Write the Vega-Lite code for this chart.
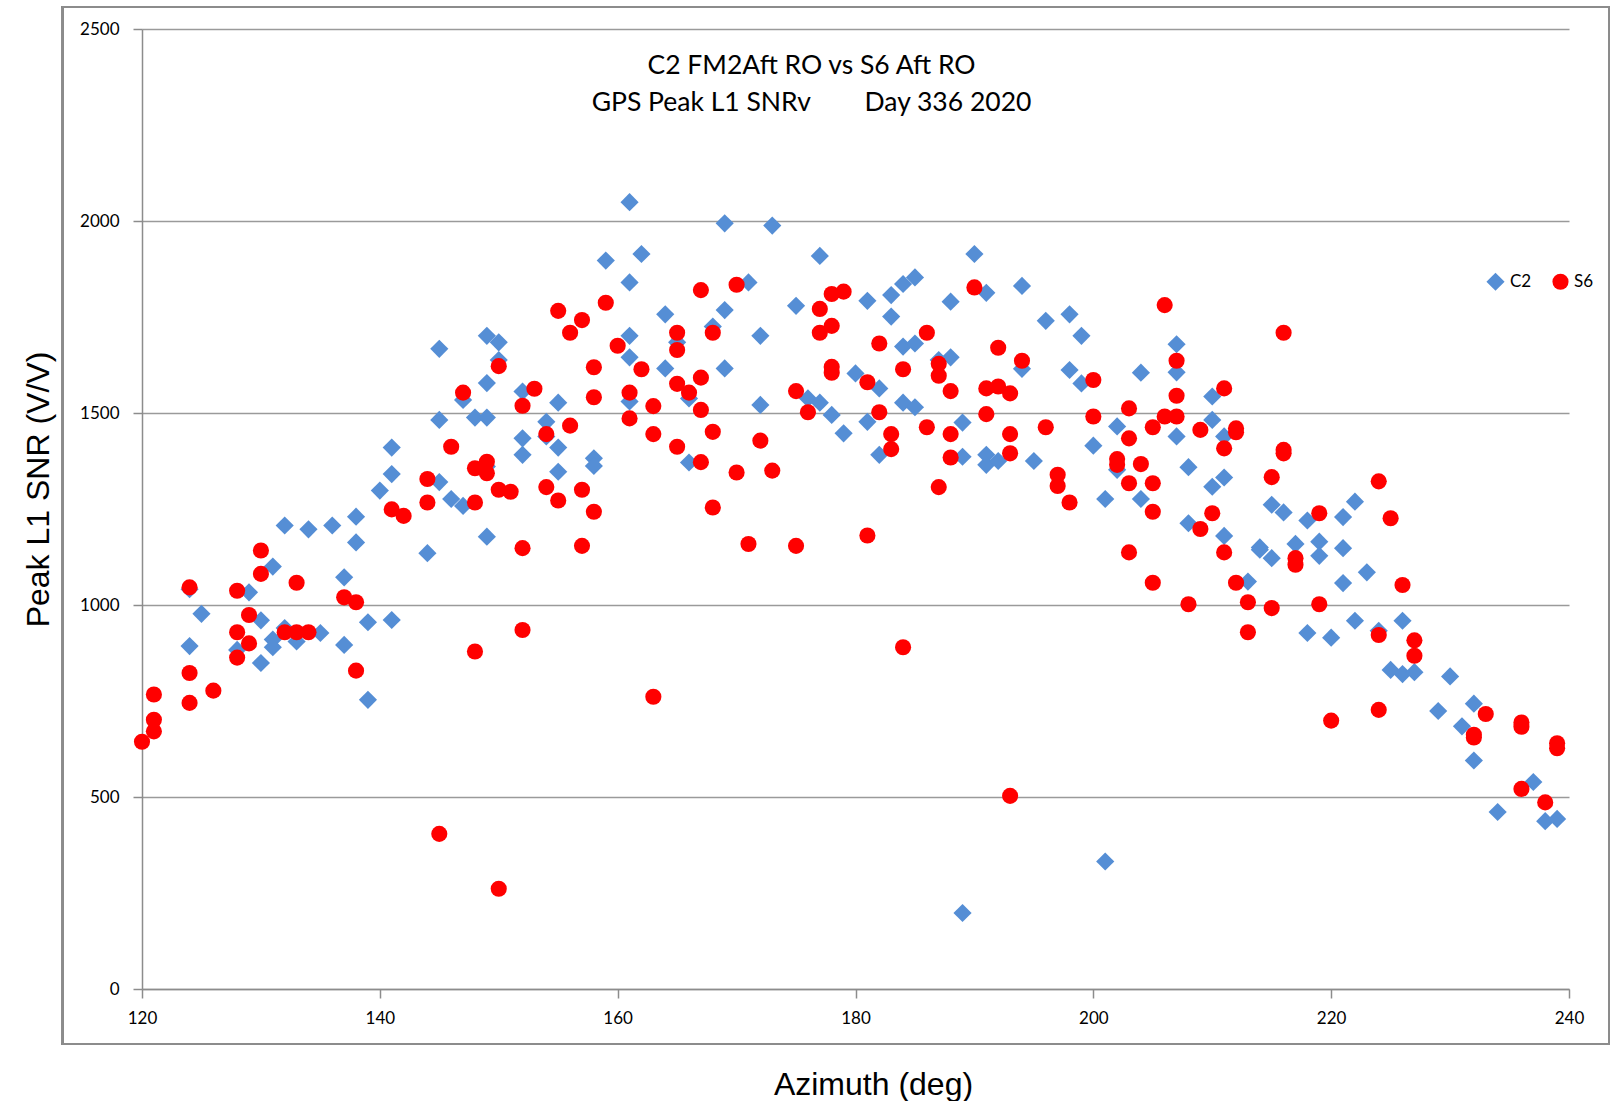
{
  "$schema": "https://vega.github.io/schema/vega-lite/v6.json",
  "width": 1427,
  "height": 960,
  "autosize": {"type": "none"},
  "padding": {"left": 142, "top": 29, "right": 52, "bottom": 112},
  "background": "white",
  "title": {
    "text": ["C2 FM2Aft RO vs S6 Aft RO", "GPS Peak L1 SNRv\u00a0\u00a0\u00a0\u00a0\u00a0\u00a0\u00a0\u00a0Day 336 2020"],
    "font": "Lato", "fontSize": 26.5, "fontWeight": "normal", "color": "#000000",
    "anchor": "middle", "frame": "group", "dx": -44, "dy": 110, "offset": 0,
    "baseline": "top", "lineHeight": 37
  },
  "config": {
    "view": {"stroke": null},
    "legend": {
      "orient": "none", "legendX": 1344, "legendY": 243, "direction": "horizontal",
      "labelFont": "Lato", "labelFontSize": 17, "labelColor": "#000000",
      "symbolSize": 180, "columnPadding": 20, "labelOffset": 5, "padding": 0,
      "symbolStrokeWidth": 0
    }
  },
  "data": {"values": [
    {"az":124,"snr":893,"sat":"C2"},{"az":124,"snr":1041,"sat":"C2"},{"az":125,"snr":977,"sat":"C2"},{"az":128,"snr":883,"sat":"C2"},
    {"az":129,"snr":1033,"sat":"C2"},{"az":130,"snr":960,"sat":"C2"},{"az":130,"snr":849,"sat":"C2"},{"az":131,"snr":1100,"sat":"C2"},
    {"az":131,"snr":910,"sat":"C2"},{"az":131,"snr":890,"sat":"C2"},{"az":132,"snr":940,"sat":"C2"},{"az":133,"snr":905,"sat":"C2"},
    {"az":135,"snr":927,"sat":"C2"},{"az":132,"snr":1207,"sat":"C2"},{"az":134,"snr":1197,"sat":"C2"},{"az":136,"snr":1207,"sat":"C2"},
    {"az":137,"snr":1072,"sat":"C2"},{"az":137,"snr":896,"sat":"C2"},{"az":138,"snr":1230,"sat":"C2"},{"az":138,"snr":1163,"sat":"C2"},
    {"az":139,"snr":955,"sat":"C2"},{"az":139,"snr":753,"sat":"C2"},{"az":141,"snr":961,"sat":"C2"},{"az":140,"snr":1298,"sat":"C2"},
    {"az":141,"snr":1341,"sat":"C2"},{"az":141,"snr":1410,"sat":"C2"},{"az":144,"snr":1135,"sat":"C2"},{"az":145,"snr":1667,"sat":"C2"},
    {"az":145,"snr":1482,"sat":"C2"},{"az":145,"snr":1320,"sat":"C2"},{"az":146,"snr":1276,"sat":"C2"},{"az":147,"snr":1258,"sat":"C2"},
    {"az":147,"snr":1534,"sat":"C2"},{"az":148,"snr":1488,"sat":"C2"},{"az":149,"snr":1488,"sat":"C2"},{"az":149,"snr":1578,"sat":"C2"},
    {"az":149,"snr":1701,"sat":"C2"},{"az":150,"snr":1684,"sat":"C2"},{"az":150,"snr":1638,"sat":"C2"},{"az":149,"snr":1178,"sat":"C2"},
    {"az":149,"snr":1361,"sat":"C2"},{"az":152,"snr":1556,"sat":"C2"},{"az":152,"snr":1434,"sat":"C2"},{"az":152,"snr":1391,"sat":"C2"},
    {"az":154,"snr":1477,"sat":"C2"},{"az":154,"snr":1439,"sat":"C2"},{"az":155,"snr":1527,"sat":"C2"},{"az":155,"snr":1410,"sat":"C2"},
    {"az":155,"snr":1347,"sat":"C2"},{"az":158,"snr":1382,"sat":"C2"},{"az":158,"snr":1362,"sat":"C2"},{"az":159,"snr":1897,"sat":"C2"},
    {"az":161,"snr":2049,"sat":"C2"},{"az":162,"snr":1914,"sat":"C2"},{"az":161,"snr":1840,"sat":"C2"},{"az":161,"snr":1701,"sat":"C2"},
    {"az":161,"snr":1645,"sat":"C2"},{"az":161,"snr":1530,"sat":"C2"},{"az":164,"snr":1757,"sat":"C2"},{"az":164,"snr":1616,"sat":"C2"},
    {"az":165,"snr":1684,"sat":"C2"},{"az":166,"snr":1538,"sat":"C2"},{"az":166,"snr":1371,"sat":"C2"},{"az":168,"snr":1725,"sat":"C2"},
    {"az":169,"snr":1994,"sat":"C2"},{"az":169,"snr":1768,"sat":"C2"},{"az":169,"snr":1616,"sat":"C2"},{"az":171,"snr":1840,"sat":"C2"},
    {"az":172,"snr":1701,"sat":"C2"},{"az":172,"snr":1521,"sat":"C2"},{"az":173,"snr":1988,"sat":"C2"},{"az":175,"snr":1779,"sat":"C2"},
    {"az":176,"snr":1538,"sat":"C2"},{"az":177,"snr":1909,"sat":"C2"},{"az":177,"snr":1527,"sat":"C2"},{"az":178,"snr":1495,"sat":"C2"},
    {"az":179,"snr":1447,"sat":"C2"},{"az":180,"snr":1603,"sat":"C2"},{"az":181,"snr":1792,"sat":"C2"},{"az":181,"snr":1477,"sat":"C2"},
    {"az":182,"snr":1391,"sat":"C2"},{"az":182,"snr":1564,"sat":"C2"},{"az":183,"snr":1807,"sat":"C2"},{"az":183,"snr":1751,"sat":"C2"},
    {"az":184,"snr":1836,"sat":"C2"},{"az":184,"snr":1673,"sat":"C2"},{"az":184,"snr":1527,"sat":"C2"},{"az":185,"snr":1853,"sat":"C2"},
    {"az":185,"snr":1681,"sat":"C2"},{"az":185,"snr":1515,"sat":"C2"},{"az":187,"snr":1638,"sat":"C2"},{"az":188,"snr":1790,"sat":"C2"},
    {"az":188,"snr":1645,"sat":"C2"},{"az":189,"snr":1475,"sat":"C2"},{"az":189,"snr":1386,"sat":"C2"},{"az":189,"snr":198,"sat":"C2"},
    {"az":190,"snr":1914,"sat":"C2"},{"az":191,"snr":1813,"sat":"C2"},{"az":191,"snr":1391,"sat":"C2"},{"az":191,"snr":1365,"sat":"C2"},
    {"az":192,"snr":1375,"sat":"C2"},{"az":194,"snr":1831,"sat":"C2"},{"az":194,"snr":1615,"sat":"C2"},{"az":195,"snr":1375,"sat":"C2"},
    {"az":196,"snr":1740,"sat":"C2"},{"az":198,"snr":1757,"sat":"C2"},{"az":198,"snr":1612,"sat":"C2"},{"az":199,"snr":1701,"sat":"C2"},
    {"az":199,"snr":1577,"sat":"C2"},{"az":200,"snr":1415,"sat":"C2"},{"az":201,"snr":1276,"sat":"C2"},{"az":201,"snr":332,"sat":"C2"},
    {"az":202,"snr":1465,"sat":"C2"},{"az":202,"snr":1352,"sat":"C2"},{"az":204,"snr":1605,"sat":"C2"},{"az":204,"snr":1276,"sat":"C2"},
    {"az":207,"snr":1679,"sat":"C2"},{"az":207,"snr":1606,"sat":"C2"},{"az":207,"snr":1439,"sat":"C2"},{"az":208,"snr":1359,"sat":"C2"},
    {"az":208,"snr":1213,"sat":"C2"},{"az":210,"snr":1543,"sat":"C2"},{"az":210,"snr":1482,"sat":"C2"},{"az":210,"snr":1308,"sat":"C2"},
    {"az":211,"snr":1439,"sat":"C2"},{"az":211,"snr":1332,"sat":"C2"},{"az":211,"snr":1180,"sat":"C2"},{"az":214,"snr":1150,"sat":"C2"},
    {"az":214,"snr":1144,"sat":"C2"},{"az":215,"snr":1261,"sat":"C2"},{"az":215,"snr":1122,"sat":"C2"},{"az":216,"snr":1241,"sat":"C2"},
    {"az":217,"snr":1159,"sat":"C2"},{"az":218,"snr":1220,"sat":"C2"},{"az":219,"snr":1165,"sat":"C2"},{"az":219,"snr":1128,"sat":"C2"},
    {"az":221,"snr":1229,"sat":"C2"},{"az":221,"snr":1148,"sat":"C2"},{"az":222,"snr":1269,"sat":"C2"},{"az":213,"snr":1061,"sat":"C2"},
    {"az":221,"snr":1057,"sat":"C2"},{"az":223,"snr":1085,"sat":"C2"},{"az":218,"snr":927,"sat":"C2"},{"az":220,"snr":915,"sat":"C2"},
    {"az":222,"snr":959,"sat":"C2"},{"az":224,"snr":933,"sat":"C2"},{"az":226,"snr":959,"sat":"C2"},{"az":225,"snr":831,"sat":"C2"},
    {"az":226,"snr":820,"sat":"C2"},{"az":227,"snr":825,"sat":"C2"},{"az":230,"snr":814,"sat":"C2"},{"az":229,"snr":724,"sat":"C2"},
    {"az":232,"snr":743,"sat":"C2"},{"az":231,"snr":684,"sat":"C2"},{"az":232,"snr":595,"sat":"C2"},{"az":237,"snr":539,"sat":"C2"},
    {"az":234,"snr":461,"sat":"C2"},{"az":238,"snr":437,"sat":"C2"},{"az":239,"snr":443,"sat":"C2"},
    {"az":120,"snr":644,"sat":"S6"},{"az":121,"snr":767,"sat":"S6"},{"az":121,"snr":701,"sat":"S6"},{"az":121,"snr":671,"sat":"S6"},
    {"az":124,"snr":1046,"sat":"S6"},{"az":124,"snr":823,"sat":"S6"},{"az":124,"snr":745,"sat":"S6"},{"az":126,"snr":777,"sat":"S6"},
    {"az":128,"snr":1037,"sat":"S6"},{"az":129,"snr":974,"sat":"S6"},{"az":128,"snr":929,"sat":"S6"},{"az":129,"snr":900,"sat":"S6"},
    {"az":128,"snr":863,"sat":"S6"},{"az":130,"snr":1142,"sat":"S6"},{"az":130,"snr":1081,"sat":"S6"},{"az":132,"snr":929,"sat":"S6"},
    {"az":133,"snr":929,"sat":"S6"},{"az":134,"snr":929,"sat":"S6"},{"az":133,"snr":1058,"sat":"S6"},{"az":137,"snr":1020,"sat":"S6"},
    {"az":138,"snr":1007,"sat":"S6"},{"az":138,"snr":829,"sat":"S6"},{"az":141,"snr":1249,"sat":"S6"},{"az":142,"snr":1232,"sat":"S6"},
    {"az":144,"snr":1328,"sat":"S6"},{"az":144,"snr":1267,"sat":"S6"},{"az":145,"snr":404,"sat":"S6"},{"az":146,"snr":1412,"sat":"S6"},
    {"az":147,"snr":1553,"sat":"S6"},{"az":148,"snr":1356,"sat":"S6"},{"az":148,"snr":1267,"sat":"S6"},{"az":148,"snr":879,"sat":"S6"},
    {"az":149,"snr":1373,"sat":"S6"},{"az":149,"snr":1343,"sat":"S6"},{"az":150,"snr":1622,"sat":"S6"},{"az":150,"snr":1300,"sat":"S6"},
    {"az":150,"snr":261,"sat":"S6"},{"az":151,"snr":1295,"sat":"S6"},{"az":152,"snr":1519,"sat":"S6"},{"az":152,"snr":1148,"sat":"S6"},
    {"az":152,"snr":935,"sat":"S6"},{"az":153,"snr":1563,"sat":"S6"},{"az":154,"snr":1445,"sat":"S6"},{"az":154,"snr":1307,"sat":"S6"},
    {"az":155,"snr":1766,"sat":"S6"},{"az":155,"snr":1272,"sat":"S6"},{"az":156,"snr":1709,"sat":"S6"},{"az":156,"snr":1467,"sat":"S6"},
    {"az":157,"snr":1742,"sat":"S6"},{"az":157,"snr":1300,"sat":"S6"},{"az":157,"snr":1154,"sat":"S6"},{"az":158,"snr":1619,"sat":"S6"},
    {"az":158,"snr":1541,"sat":"S6"},{"az":158,"snr":1243,"sat":"S6"},{"az":159,"snr":1787,"sat":"S6"},{"az":160,"snr":1675,"sat":"S6"},
    {"az":161,"snr":1553,"sat":"S6"},{"az":161,"snr":1486,"sat":"S6"},{"az":162,"snr":1614,"sat":"S6"},{"az":163,"snr":1518,"sat":"S6"},
    {"az":163,"snr":1445,"sat":"S6"},{"az":163,"snr":761,"sat":"S6"},{"az":165,"snr":1709,"sat":"S6"},{"az":165,"snr":1664,"sat":"S6"},
    {"az":165,"snr":1576,"sat":"S6"},{"az":165,"snr":1412,"sat":"S6"},{"az":166,"snr":1553,"sat":"S6"},{"az":167,"snr":1820,"sat":"S6"},
    {"az":167,"snr":1592,"sat":"S6"},{"az":167,"snr":1508,"sat":"S6"},{"az":167,"snr":1372,"sat":"S6"},{"az":168,"snr":1709,"sat":"S6"},
    {"az":168,"snr":1451,"sat":"S6"},{"az":168,"snr":1254,"sat":"S6"},{"az":170,"snr":1834,"sat":"S6"},{"az":170,"snr":1345,"sat":"S6"},
    {"az":171,"snr":1159,"sat":"S6"},{"az":172,"snr":1428,"sat":"S6"},{"az":173,"snr":1350,"sat":"S6"},{"az":175,"snr":1557,"sat":"S6"},
    {"az":175,"snr":1154,"sat":"S6"},{"az":176,"snr":1502,"sat":"S6"},{"az":177,"snr":1771,"sat":"S6"},{"az":177,"snr":1709,"sat":"S6"},
    {"az":178,"snr":1810,"sat":"S6"},{"az":178,"snr":1727,"sat":"S6"},{"az":178,"snr":1620,"sat":"S6"},{"az":178,"snr":1605,"sat":"S6"},
    {"az":179,"snr":1816,"sat":"S6"},{"az":181,"snr":1580,"sat":"S6"},{"az":181,"snr":1181,"sat":"S6"},{"az":182,"snr":1681,"sat":"S6"},
    {"az":182,"snr":1502,"sat":"S6"},{"az":183,"snr":1445,"sat":"S6"},{"az":183,"snr":1406,"sat":"S6"},{"az":184,"snr":1614,"sat":"S6"},
    {"az":184,"snr":890,"sat":"S6"},{"az":186,"snr":1709,"sat":"S6"},{"az":186,"snr":1463,"sat":"S6"},{"az":187,"snr":1628,"sat":"S6"},
    {"az":187,"snr":1597,"sat":"S6"},{"az":187,"snr":1307,"sat":"S6"},{"az":188,"snr":1557,"sat":"S6"},{"az":188,"snr":1445,"sat":"S6"},
    {"az":188,"snr":1384,"sat":"S6"},{"az":190,"snr":1827,"sat":"S6"},{"az":191,"snr":1564,"sat":"S6"},{"az":191,"snr":1497,"sat":"S6"},
    {"az":192,"snr":1670,"sat":"S6"},{"az":192,"snr":1569,"sat":"S6"},{"az":193,"snr":1551,"sat":"S6"},{"az":193,"snr":1445,"sat":"S6"},
    {"az":193,"snr":1395,"sat":"S6"},{"az":193,"snr":503,"sat":"S6"},{"az":194,"snr":1636,"sat":"S6"},{"az":196,"snr":1463,"sat":"S6"},
    {"az":197,"snr":1339,"sat":"S6"},{"az":197,"snr":1310,"sat":"S6"},{"az":198,"snr":1267,"sat":"S6"},{"az":200,"snr":1586,"sat":"S6"},
    {"az":200,"snr":1491,"sat":"S6"},{"az":202,"snr":1380,"sat":"S6"},{"az":202,"snr":1365,"sat":"S6"},{"az":203,"snr":1512,"sat":"S6"},
    {"az":203,"snr":1434,"sat":"S6"},{"az":203,"snr":1317,"sat":"S6"},{"az":203,"snr":1137,"sat":"S6"},{"az":204,"snr":1367,"sat":"S6"},
    {"az":205,"snr":1463,"sat":"S6"},{"az":205,"snr":1317,"sat":"S6"},{"az":205,"snr":1243,"sat":"S6"},{"az":205,"snr":1058,"sat":"S6"},
    {"az":206,"snr":1781,"sat":"S6"},{"az":206,"snr":1491,"sat":"S6"},{"az":207,"snr":1636,"sat":"S6"},{"az":207,"snr":1545,"sat":"S6"},
    {"az":207,"snr":1491,"sat":"S6"},{"az":208,"snr":1002,"sat":"S6"},{"az":209,"snr":1456,"sat":"S6"},{"az":209,"snr":1198,"sat":"S6"},
    {"az":210,"snr":1239,"sat":"S6"},{"az":211,"snr":1564,"sat":"S6"},{"az":211,"snr":1408,"sat":"S6"},{"az":211,"snr":1137,"sat":"S6"},
    {"az":212,"snr":1460,"sat":"S6"},{"az":212,"snr":1450,"sat":"S6"},{"az":212,"snr":1058,"sat":"S6"},{"az":213,"snr":1007,"sat":"S6"},
    {"az":213,"snr":929,"sat":"S6"},{"az":215,"snr":1333,"sat":"S6"},{"az":215,"snr":992,"sat":"S6"},{"az":216,"snr":1709,"sat":"S6"},
    {"az":216,"snr":1404,"sat":"S6"},{"az":216,"snr":1395,"sat":"S6"},{"az":217,"snr":1122,"sat":"S6"},{"az":217,"snr":1105,"sat":"S6"},
    {"az":219,"snr":1239,"sat":"S6"},{"az":219,"snr":1002,"sat":"S6"},{"az":220,"snr":699,"sat":"S6"},{"az":224,"snr":1322,"sat":"S6"},
    {"az":224,"snr":922,"sat":"S6"},{"az":224,"snr":727,"sat":"S6"},{"az":225,"snr":1226,"sat":"S6"},{"az":226,"snr":1052,"sat":"S6"},
    {"az":227,"snr":908,"sat":"S6"},{"az":227,"snr":868,"sat":"S6"},{"az":232,"snr":662,"sat":"S6"},{"az":232,"snr":655,"sat":"S6"},
    {"az":233,"snr":716,"sat":"S6"},{"az":236,"snr":694,"sat":"S6"},{"az":236,"snr":683,"sat":"S6"},{"az":236,"snr":521,"sat":"S6"},
    {"az":238,"snr":486,"sat":"S6"},{"az":239,"snr":640,"sat":"S6"},{"az":239,"snr":627,"sat":"S6"}
  ]},
  "layer": [
    {
      "mark": {"type": "rect", "fill": "transparent", "stroke": "#8c8c8c", "strokeWidth": 1.5, "clip": false},
      "encoding": {
        "x": {"datum": 113.33, "type": "quantitative"},
        "x2": {"datum": 243.36},
        "y": {"datum": 2557, "type": "quantitative"},
        "y2": {"datum": -143}
      }
    },
    {
      "mark": {"type": "point", "filled": true, "opacity": 1, "strokeWidth": 0},
      "encoding": {
        "x": {
          "field": "az", "type": "quantitative",
          "scale": {"domain": [120, 240], "nice": false, "zero": false},
          "axis": {
            "values": [120, 140, 160, 180, 200, 220, 240], "grid": false, "format": "d",
            "domainColor": "#8c8c8c", "domainWidth": 1.5, "tickColor": "#8c8c8c", "tickWidth": 1.5, "tickSize": 9,
            "labelFont": "Lato", "labelFontSize": 17, "labelColor": "#000000", "labelPadding": 12, "labelFlush": false,
            "title": "Azimuth (deg)", "titleFont": "Liberation Sans", "titleFontSize": 32, "titleFontWeight": "normal",
            "titleColor": "#000000", "titleX": 731, "titleY": 105, "titleBaseline": "alphabetic", "titleAlign": "center"
          }
        },
        "y": {
          "field": "snr", "type": "quantitative",
          "scale": {"domain": [0, 2500], "nice": false},
          "axis": {
            "values": [0, 500, 1000, 1500, 2000, 2500], "grid": true, "gridColor": "#9a9a9a", "gridWidth": 1.5, "format": "d",
            "domainColor": "#8c8c8c", "domainWidth": 1.5, "tickColor": "#8c8c8c", "tickWidth": 1.5, "tickSize": 9,
            "labelFont": "Lato", "labelFontSize": 17, "labelColor": "#000000", "labelPadding": 14, "labelFlush": false,
            "title": "Peak L1 SNR (V/V)", "titleFont": "Liberation Sans", "titleFontSize": 32, "titleFontWeight": "normal",
            "titleColor": "#000000", "titleX": -94, "titleY": 460, "titleBaseline": "alphabetic", "titleAlign": "center"
          }
        },
        "color": {
          "field": "sat", "type": "nominal",
          "scale": {"domain": ["C2", "S6"], "range": ["#558ED5", "#FF0000"]},
          "legend": {"title": null}
        },
        "shape": {
          "field": "sat", "type": "nominal",
          "scale": {"domain": ["C2", "S6"], "range": ["diamond", "circle"]},
          "legend": {"title": null}
        },
        "size": {
          "field": "sat", "type": "nominal",
          "scale": {"domain": ["C2", "S6"], "range": [330, 260]},
          "legend": null
        }
      }
    }
  ]
}
